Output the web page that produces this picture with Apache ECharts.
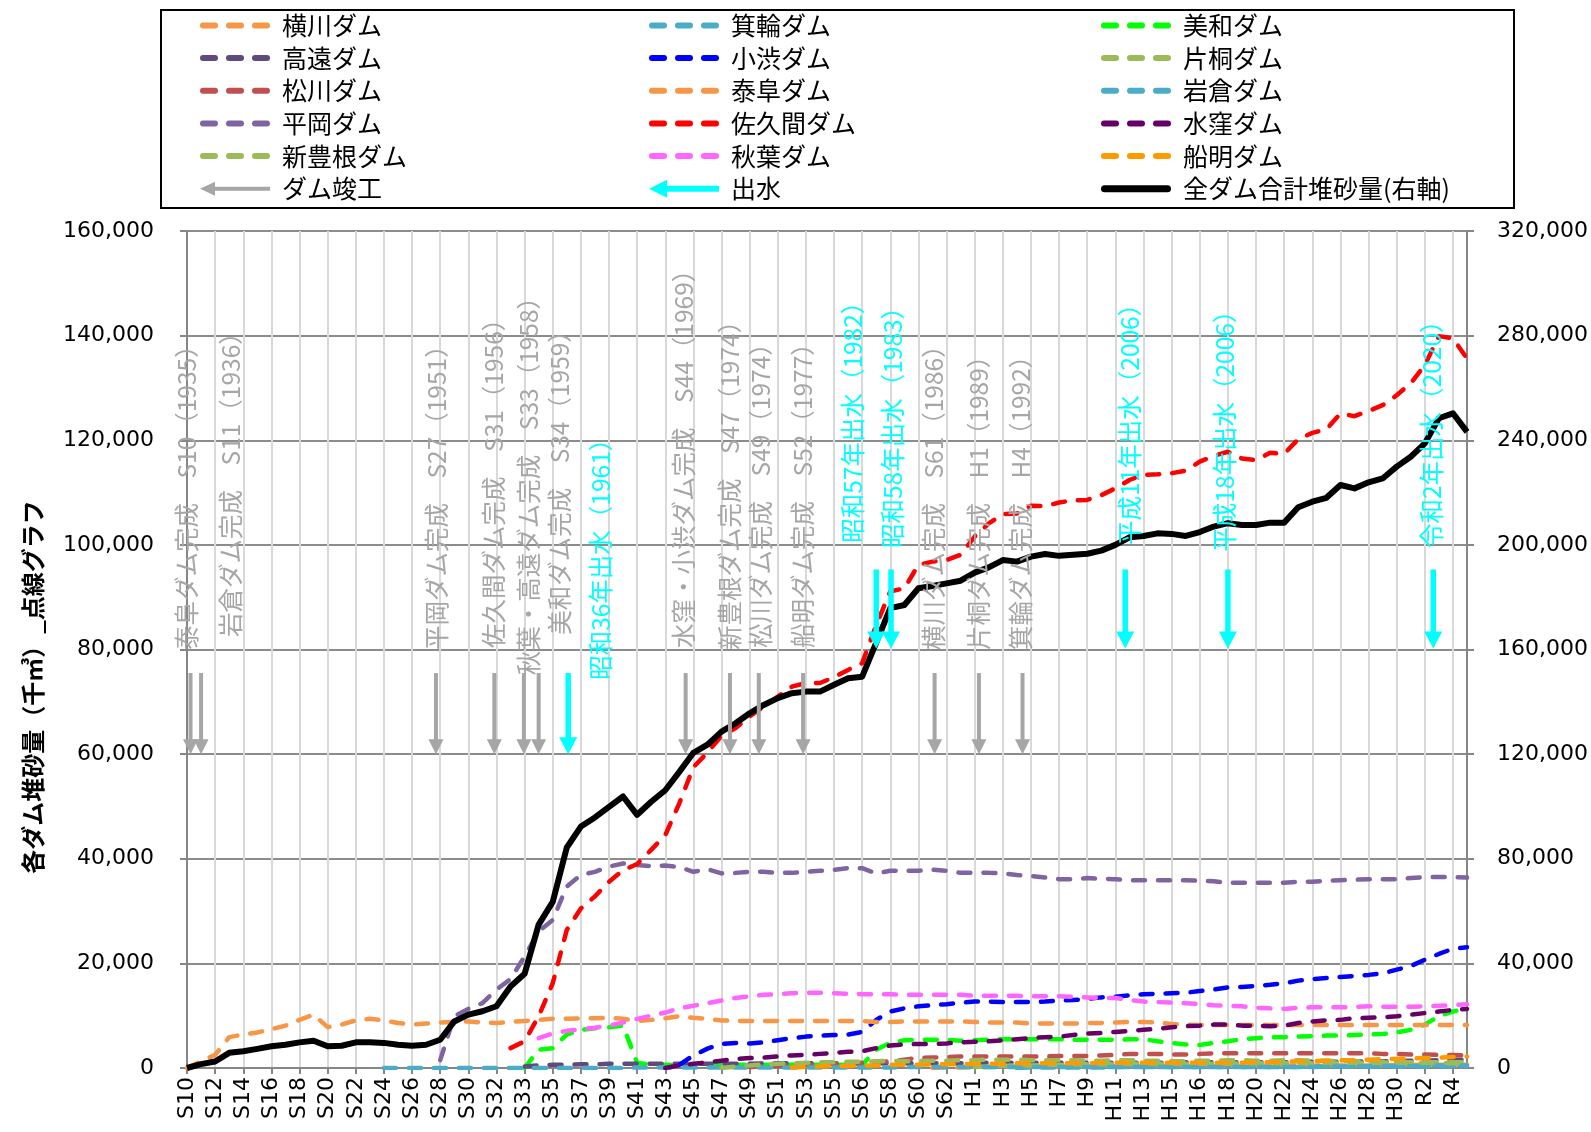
<!DOCTYPE html>
<html>
<head>
    <meta charset="utf-8" />
    <title>各ダム堆砂量の推移</title>
    <script src="https://cdn.jsdelivr.net/npm/echarts@6/dist/echarts.min.js"></script>
    <style>
        html, body { margin: 0; padding: 0; background: #fff; }
        #echart { width: 1591px; height: 1132px; }
    </style>
</head>
<body>
    <div id="echart"></div>
<script>
    // 年度（92区分、ラベルは1つおき）
    var years = ['S10', 'S11', 'S12', 'S13', 'S14', 'S15', 'S16', 'S17', 'S18', 'S19',
        'S20', 'S21', 'S22', 'S23', 'S24', 'S25', 'S26', 'S27', 'S28', 'S29',
        'S30', 'S31', 'S32', 'S32', 'S33', 'S34', 'S35', 'S36', 'S37', 'S38',
        'S39', 'S40', 'S41', 'S42', 'S43', 'S44', 'S45', 'S46', 'S47', 'S48',
        'S49', 'S50', 'S51', 'S52', 'S53', 'S54', 'S55', 'S55', 'S56', 'S57',
        'S58', 'S59', 'S60', 'S61', 'S62', 'S63', 'H1', 'H2', 'H3', 'H4',
        'H5', 'H6', 'H7', 'H8', 'H9', 'H10', 'H11', 'H12', 'H13', 'H14',
        'H15', 'H15', 'H16', 'H17', 'H18', 'H19', 'H20', 'H21', 'H22', 'H23',
        'H24', 'H25', 'H26', 'H27', 'H28', 'H29', 'H30', 'R1', 'R2', 'R3',
        'R4', 'R5'];

    // 各ダム堆砂量（千m3）。配列は開始年度の位置から
    function fromIndex(start, vals) {
        var out = [];
        for (var i = 0; i < start; i++) out.push(null);
        return out.concat(vals);
    }

    var yokokawa = fromIndex(53, [0, 100, 100, 200, 200, 200, 300, 300, 300, 300,
        300, 300, 400, 400, 400, 400, 400, 400, 400, 400,
        400, 400, 400, 400, 500, 500, 500, 500, 500, 500,
        500, 500, 500, 600, 600, 600, 600, 600, 600]);
    var minowa = fromIndex(59, [0, 100, 100, 100, 100, 100, 100, 200, 200, 200,
        200, 200, 200, 200, 200, 200, 200, 200, 200, 200,
        200, 300, 300, 300, 300, 300, 300, 300, 300, 300,
        300, 300, 300]);
    var miwa = fromIndex(24, [0, 3500, 3800, 6400, 7300, 7600, 7800, 8100, 1000, 600,
        600, 600, 600, 600, 600, 600, 600, 600, 600, 600,
        600, 600, 600, 600, 600,
        3500, 4800, 5300, 5400, 5400, 5400, 5200, 5300, 5400, 5500,
        5500, 5500, 5500, 5500, 5400, 5400, 5400, 5400, 5500, 5500,
        5100, 4800, 4500, 4400, 4800, 5100, 5500, 5700, 5900, 5900,
        6000, 6100, 6200, 6200, 6300, 6400, 6500, 6800, 7300, 8300,
        9900, 10800, 11300]);
    var takato = fromIndex(24, [300, 500, 600, 600, 700, 700, 800, 800, 800, 800,
        800, 800, 800, 800, 800, 800, 800, 900, 900, 900,
        900, 900, 900, 900, 900, 900, 900, 900, 900, 900,
        900, 900, 900, 1000, 1000, 1000, 1000, 1000, 1000, 1000,
        1000, 1000, 1000, 1000, 1000, 1000, 1000, 1100, 1100, 1100,
        1100, 1100, 1100, 1100, 1100, 1100, 1200, 1200, 1200, 1200,
        1300, 1300, 1300, 1400, 1400, 1500, 1600, 1600]);
    var koshibu = fromIndex(35, [600, 2400, 3700, 4600, 4800, 4700, 4900, 5300, 5700, 6000,
        6200, 6300, 6400, 6900, 9200, 10800, 11400, 11800, 12000, 12200,
        12500, 12700, 12700, 12600, 12600, 12600, 12700, 12900, 13000, 13200,
        13500, 13600, 13900, 14100, 14200, 14300, 14400, 14700, 15000, 15400,
        15500, 15700, 15900, 16200, 16700, 17000, 17200, 17400, 17600, 17800,
        18100, 18800, 19500, 20700, 21800, 22800, 23100]);
    var katagiri = fromIndex(56, [200, 300, 400, 500, 500, 600, 600, 700, 700, 700,
        800, 800, 800, 800, 800, 800, 800, 800, 800, 900,
        900, 900, 900, 900, 900, 1000, 1000, 1000, 1000, 1000,
        1100, 1100, 1100, 1100, 1100, 1100]);
    var matsukawa = fromIndex(40, [200, 300, 400, 500, 600, 700, 800, 900, 1000, 1100,
        1300, 1600, 1900, 2000, 2100, 2200, 2200, 2200, 2200, 2200,
        2200, 2200, 2300, 2300, 2300, 2400, 2500, 2700, 2700, 2700,
        2600, 2600, 2700, 2800, 2800, 2800, 2800, 2800, 2800, 2800,
        2800, 2800, 2800, 2800, 2800, 2700, 2700, 2600, 2600, 2500,
        2500, 2400]);
    var yasuoka = [0, 1300, 2500, 5900, 6400, 6800, 7400, 8100, 9200, 10200,
        7800, 8300, 9100, 9400, 9100, 8600, 8300, 8500, 8700, 8800,
        8900, 8700, 8600, 8800, 9000, 9200, 9400, 9400, 9500, 9500,
        9600, 9400, 9000, 9200, 9500, 9900, 9600, 9400, 9100, 9000,
        9000, 9000, 9000, 9000, 9000, 9000, 9000, 9000, 9000, 8800,
        8800, 8900, 8900, 8900, 8900, 8900, 8800, 8700, 8700, 8700,
        8500, 8500, 8500, 8500, 8600, 8600, 8700, 8800, 8800, 8700,
        8400, 8300, 8200, 8200, 8200, 8200, 8200, 8200, 8200, 8200,
        8200, 8200, 8200, 8200, 8200, 8200, 8200, 8200, 8200, 8200,
        8200, 8200];
    var iwakura = fromIndex(14, [0, 0, 0, 0, 0, 0, 0, 0, 0, 0,
        0, 0, 0, 0, 0, 0, 0, 0,
        100, 100, 100, 100, 100, 100, 100, 100, 100, 100,
        100, 100, 100, 100, 100, 100, 100, 100, 100,
        200, 200, 200, 200, 200, 200, 200, 200, 200, 200,
        200, 200, 200, 200, 200, 200, 200, 200, 200, 200,
        200, 200, 200, 200, 200, 200, 200, 200, 200, 200,
        300, 300, 300, 300, 400, 400, 400, 400, 500, 500, 500]);
    var hiraoka = fromIndex(18, [1500, 9900, 11300, 12400, 15000, 17000, 21300, 26100, 28300, 34700,
        36900, 37500, 38500, 39100, 38800,
        38600, 38700, 38400, 37500, 38000, 37200, 37300, 37500, 37500, 37300,
        37300, 37500, 37700, 37900, 38200, 38200,
        37200, 37700, 37700, 37700, 37900, 37700, 37300, 37300, 37300, 37200,
        36900, 36700, 36400, 36100, 36100,
        36300, 36200, 36100, 35900, 35900, 35900, 35900, 35900, 35800, 35700,
        35400, 35400, 35400, 35400, 35400, 35600, 35600, 35800, 35900, 36000,
        36100, 36100, 36100, 36300, 36500, 36500, 36500, 36400]);
    var sakuma = fromIndex(23, [3800, 5100, 9900, 16200, 26400, 30500, 32800, 35600, 37800, 39000,
        41700, 44500, 50600, 57500, 60300, 63500, 65000, 67200, 69100, 71000,
        72900, 73600, 73600, 74700, 76100, 77400, 84700, 91100, 91700, 96200,
        96800, 97100, 98100, 101600, 104100, 105900, 106000, 107500, 107400, 108100,
        108500, 108600, 109500, 110800, 112400, 113400, 113500, 113700, 114200, 115900,
        117000, 117800, 116500, 116200, 117600, 117400, 120200, 121400, 122100, 125100,
        124600, 125600, 126700, 128600, 130900, 134400, 139900, 139500, 135600]);
    var misakubo = fromIndex(34, [0, 500, 800, 1100, 1400, 1700, 1900, 2000, 2200, 2400,
        2500, 2700, 2900, 3100, 3200, 3800, 4300, 4500, 4600, 4600,
        4700, 4900, 5000, 5100, 5300, 5500, 5700, 5900, 6000, 6300,
        6600, 6700, 6900, 7100, 7300, 7500, 7800, 8000, 8100, 8300,
        8300, 8100, 8100, 8000, 8100, 8600, 8900, 9100, 9200, 9500,
        9600, 9700, 9900, 10200, 10500, 10800, 11100, 11300]);
    var shintoyone = fromIndex(38, [0, 300, 500, 700, 800, 900, 1000, 1100, 1100, 1200,
        1200, 1300, 1400, 1300, 1300, 1400, 1400, 1500, 1500, 1600,
        1600, 1600, 1500, 1500, 1500, 1500, 1400, 1400, 1500, 1500,
        1400, 1400, 1300, 1300, 1400, 1400, 1500, 1500, 1400, 1400,
        1500, 1500, 1400, 1400, 1300, 1300, 1200, 1200, 1100, 1100,
        1000, 1000, 900, 900]);
    var akiha = fromIndex(25, [5700, 6600, 7100, 7400, 7700, 8100, 8700, 9400,
        10000, 10600, 11400, 11900, 12400, 12900, 13400, 13700, 14000, 14100,
        14300, 14400, 14400, 14300, 14200, 14100, 14100, 14100, 14000, 14000,
        14000, 14000, 14000, 13800, 13800, 13800, 13800, 13700, 13700, 13700,
        13600, 13500, 13400, 13400, 13000, 12700, 12600, 12500, 12400, 12200,
        12000, 11900, 11800, 11500, 11400, 11300, 11500, 11600, 11600, 11600,
        11700, 11800, 11700, 11700, 11700, 11800, 11900, 12000, 12200]);
    var funagira = fromIndex(43, [100, 200, 300, 400, 400, 500, 500, 600, 600, 600,
        700, 700, 700, 800, 800, 800, 900, 900, 900, 900,
        900, 900, 1000, 1000, 1000, 1000, 1000, 1000, 1000, 1000,
        1000, 1000, 1000, 1100, 1100, 1200, 1300, 1300, 1400, 1500,
        1500, 1600, 1700, 1700, 1800, 1900, 2000, 2100, 2200]);

    // 全ダム合計堆砂量（右軸）
    var total = [0, 1500, 2500, 5800, 6400, 7300, 8300, 8900, 9800, 10400,
        8300, 8500, 9800, 9800, 9600, 8900, 8500, 8900, 10800, 17800,
        20400, 21700, 23600, 31200, 36000, 54800, 63500, 84300, 92300, 95800,
        99800, 103800, 96800, 101800, 106200, 113200, 120500, 123600, 128600, 131800,
        135600, 138800, 141400, 143300, 143900, 143900, 146500, 149000, 149600, 162600,
        175800, 177000, 183400, 184300, 185300, 186300, 189400, 191400, 194200, 193600,
        195500, 196500, 195800, 196200, 196600, 197800, 200000, 202900, 203400, 204400,
        204200, 203400, 204900, 207000, 208300, 207600, 207600, 208500, 208500, 214400,
        216500, 218000, 222900, 221600, 223900, 225400, 229900, 233700, 238800, 248400,
        250300, 243200];

    // 注記（矢印：[年度位置, 始点, 先端]、文字：[年度位置, 下端]）
    var damArrows = [[0.25, 75500, 60000], [1, 75500, 60000], [17.7, 75500, 60000], [21.85, 75500, 60000],
        [23.95, 75500, 60000], [25, 75500, 60000], [35.45, 75500, 60000], [38.6, 75500, 60000],
        [40.65, 75500, 60000], [43.8, 75500, 60000], [53.15, 75500, 60000], [56.3, 75500, 60000],
        [59.4, 75500, 60000]];
    var floodArrows = [[27.1, 75500, 60000], [49, 95300, 80200], [50.05, 95300, 80200],
        [66.7, 95300, 80200], [74, 95300, 80200], [88.6, 95300, 80200]];
    var damNotes = ['泰阜ダム完成　S10（1935）', '岩倉ダム完成　S11（1936）', '平岡ダム完成　S27（1951）',
        '佐久間ダム完成　S31（1956）', '秋葉・高遠ダム完成　S33（1958）', '美和ダム完成　S34（1959）',
        '水窪・小渋ダム完成　S44（1969）', '新豊根ダム完成　S47（1974）', '松川ダム完成　S49（1974）',
        '船明ダム完成　S52（1977）', '横川ダム完成　S61（1986）', '片桐ダム完成　H1（1989）',
        '箕輪ダム完成　H4（1992）'];
    var damNotePos = [[0, 79900], [3.1, 82400], [17.75, 79900], [21.8, 80300], [24.3, 75100], [26.5, 82800],
        [35.3, 80300], [38.6, 79900], [40.8, 80300], [43.8, 80300], [53.1, 79900], [56.3, 79900], [59.3, 79900]];
    var floodNotes = ['昭和36年出水（1961）', '昭和57年出水（1982）', '昭和58年出水（1983）',
        '平成11年出水（2006）', '平成18年出水（2006）', '令和2年出水（2020）'];
    var floodNotePos = [[29.4, 74200], [47.3, 100400], [50.2, 99400], [67, 100000], [73.8, 98700], [88.5, 99400]];

    var JP = '"Noto Sans CJK JP", sans-serif';
    var GRAY = '#A6A6A6';
    var CYAN = '#00FFFF';
    var AXIS = '#868686';

    var dashIcon = 'path://M3,0H15A3,3,0,0,1,15,6H3A3,3,0,0,1,3,0Z M29,0H41A3,3,0,0,1,41,6H29A3,3,0,0,1,29,0Z M55,0H67A3,3,0,0,1,67,6H55A3,3,0,0,1,55,0Z';
    var grayArrowIcon = 'path://M0,7L15,0L15,5L70,5L70,9L15,9L15,14Z';
    var cyanArrowIcon = 'path://M0,9L18,0L18,6L70,6L70,12L18,12L18,18Z';
    var solidIcon = 'path://M3.5,0H66.5A3.5,3.5,0,0,1,66.5,7H3.5A3.5,3.5,0,0,1,3.5,0Z';

    var dams = [
        { name: '横川ダム', data: yokokawa, color: '#F79646' },
        { name: '箕輪ダム', data: minowa, color: '#4BACC6' },
        { name: '美和ダム', data: miwa, color: '#00FF00' },
        { name: '高遠ダム', data: takato, color: '#604A7B' },
        { name: '小渋ダム', data: koshibu, color: '#0000FF' },
        { name: '片桐ダム', data: katagiri, color: '#9BBB59' },
        { name: '松川ダム', data: matsukawa, color: '#C0504D' },
        { name: '泰阜ダム', data: yasuoka, color: '#F79646' },
        { name: '岩倉ダム', data: iwakura, color: '#4BACC6' },
        { name: '平岡ダム', data: hiraoka, color: '#8064A2' },
        { name: '佐久間ダム', data: sakuma, color: '#FF0000' },
        { name: '水窪ダム', data: misakubo, color: '#660066' },
        { name: '新豊根ダム', data: shintoyone, color: '#9BBB59' },
        { name: '秋葉ダム', data: akiha, color: '#FF66FF' },
        { name: '船明ダム', data: funagira, color: '#FF9900' }
    ];

    function arrowItem(headW, headLen, shaft) {
        return function (params, api) {
            var top = api.coord([api.value(0), api.value(1)]);
            var tip = api.coord([api.value(0), api.value(2)]);
            var color = api.visual('color');
            return {
                type: 'group',
                children: [{
                    type: 'line',
                    shape: { x1: top[0], y1: top[1], x2: tip[0], y2: tip[1] - headLen + 1 },
                    style: { stroke: color, lineWidth: shaft }
                }, {
                    type: 'polygon',
                    shape: { points: [[tip[0] - headW / 2, tip[1] - headLen], [tip[0] + headW / 2, tip[1] - headLen], [tip[0], tip[1]]] },
                    style: { fill: color }
                }]
            };
        };
    }

    function noteItem(texts, color) {
        return function (params, api) {
            var p = api.coord([api.value(0), api.value(1)]);
            return {
                type: 'text',
                x: p[0],
                y: p[1],
                rotation: Math.PI / 2,
                style: {
                    text: texts[params.dataIndex],
                    fill: color,
                    fontSize: 24.5,
                    fontFamily: JP,
                    align: 'left',
                    verticalAlign: 'middle'
                }
            };
        };
    }

    var series = dams.map(function (d) {
        return {
            name: d.name,
            type: 'line',
            data: d.data,
            symbol: 'none',
            itemStyle: { color: d.color },
            lineStyle: { color: d.color, width: 4.5, type: [12, 13], cap: 'round', join: 'round' },
            z: 3
        };
    });
    series.push({
        name: '全ダム合計堆砂量(右軸)',
        type: 'line',
        yAxisIndex: 1,
        data: total,
        symbol: 'none',
        itemStyle: { color: '#000' },
        lineStyle: { color: '#000', width: 6, join: 'round' },
        z: 4
    });
    series.push({
        name: 'ダム竣工', type: 'custom', xAxisIndex: 1, yAxisIndex: 0, silent: true, z: 6,
        itemStyle: { color: GRAY }, renderItem: arrowItem(15, 15, 4), data: damArrows
    });
    series.push({
        name: '出水', type: 'custom', xAxisIndex: 1, yAxisIndex: 0, silent: true, z: 6,
        itemStyle: { color: CYAN }, renderItem: arrowItem(18, 17, 5.5), data: floodArrows
    });
    series.push({
        name: 'damNotes', type: 'custom', xAxisIndex: 1, yAxisIndex: 0, silent: true, z: 7,
        itemStyle: { color: GRAY }, renderItem: noteItem(damNotes, GRAY), data: damNotePos
    });
    series.push({
        name: 'floodNotes', type: 'custom', xAxisIndex: 1, yAxisIndex: 0, silent: true, z: 7,
        itemStyle: { color: CYAN }, renderItem: noteItem(floodNotes, CYAN), data: floodNotePos
    });

    function legendItem(name, icon) {
        return { name: name, icon: icon };
    }
    function legendCol(left, items) {
        return {
            orient: 'vertical',
            left: left,
            top: 10.4,
            padding: 0,
            itemGap: 2.66,
            itemWidth: 70,
            itemHeight: 18,
            symbolKeepAspect: true,
            selectedMode: false,
            itemStyle: { borderWidth: 0 },
            textStyle: { fontSize: 25, fontFamily: JP, color: '#000', lineHeight: 30, padding: [0, 0, 0, 7] },
            data: items
        };
    }

    var myChart = echarts.init(document.getElementById('echart'));
    var option = {
        animation: false,
        backgroundColor: '#fff',
        grid: { left: 187, right: 119, top: 231, bottom: 64 },
        legend: [
            legendCol(200, [legendItem('横川ダム', dashIcon), legendItem('高遠ダム', dashIcon), legendItem('松川ダム', dashIcon),
                legendItem('平岡ダム', dashIcon), legendItem('新豊根ダム', dashIcon), legendItem('ダム竣工', grayArrowIcon)]),
            legendCol(649, [legendItem('箕輪ダム', dashIcon), legendItem('小渋ダム', dashIcon), legendItem('泰阜ダム', dashIcon),
                legendItem('佐久間ダム', dashIcon), legendItem('秋葉ダム', dashIcon), legendItem('出水', cyanArrowIcon)]),
            legendCol(1101, [legendItem('美和ダム', dashIcon), legendItem('片桐ダム', dashIcon), legendItem('岩倉ダム', dashIcon),
                legendItem('水窪ダム', dashIcon), legendItem('船明ダム', dashIcon), legendItem('全ダム合計堆砂量(右軸)', solidIcon)])
        ],
        graphic: [{
            type: 'rect',
            shape: { x: 161, y: 10, width: 1353, height: 198 },
            style: { fill: 'none', stroke: '#000', lineWidth: 2 },
            silent: true
        }, {
            type: 'text',
            x: 33,
            y: 687,
            rotation: Math.PI / 2,
            style: {
                text: '各ダム堆砂量（千㎥）_点線グラフ',
                fill: '#000',
                font: 'bold 24px "Noto Sans CJK JP"',
                align: 'center',
                verticalAlign: 'middle'
            },
            silent: true
        }],
        xAxis: [{
            type: 'category',
            data: years,
            boundaryGap: false,
            axisLine: { lineStyle: { color: AXIS, width: 2 } },
            axisTick: { show: true, interval: 1, length: 6, lineStyle: { color: AXIS, width: 2 } },
            axisLabel: { interval: 1, rotate: 90, margin: 9, fontSize: 22, color: '#000', fontFamily: 'DejaVu Sans' },
            splitLine: { show: true, interval: 1, lineStyle: { color: '#D9D9D9', width: 2 } }
        }, {
            type: 'value',
            min: 0,
            max: 91,
            show: false
        }],
        yAxis: [{
            type: 'value',
            min: 0,
            max: 160000,
            interval: 20000,
            axisLine: { show: true, lineStyle: { color: AXIS, width: 2 } },
            axisTick: { show: true, length: 7, lineStyle: { color: AXIS, width: 2 } },
            axisLabel: {
                margin: 33, fontSize: 22, color: '#000', fontFamily: 'DejaVu Sans',
                formatter: function (v) { return v.toLocaleString('en-US'); }
            },
            splitLine: { show: true, lineStyle: { color: '#8C8C8C', width: 2 } }
        }, {
            type: 'value',
            position: 'right',
            min: 0,
            max: 320000,
            interval: 40000,
            axisLine: { show: true, lineStyle: { color: AXIS, width: 2 } },
            axisTick: { show: true, length: 7, lineStyle: { color: AXIS, width: 2 } },
            axisLabel: {
                margin: 30, fontSize: 22, color: '#000', fontFamily: 'DejaVu Sans',
                formatter: function (v) { return v.toLocaleString('en-US'); }
            },
            splitLine: { show: false }
        }],
        series: series
    };
    myChart.setOption(option);
</script>
</body>
</html>
